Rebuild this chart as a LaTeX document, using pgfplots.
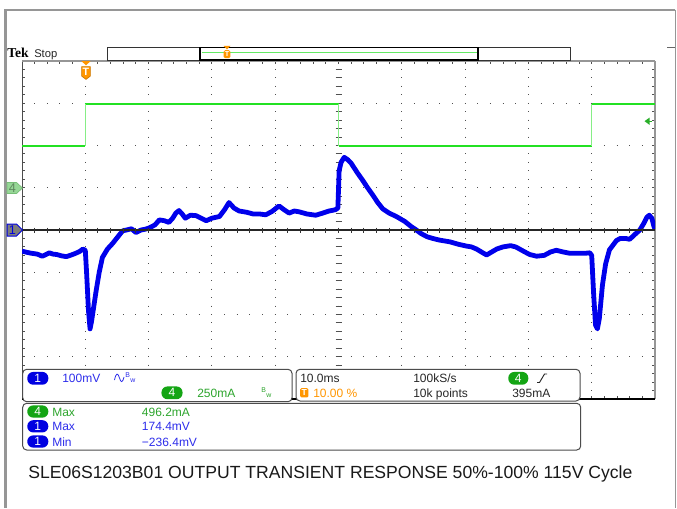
\documentclass[border=0pt]{standalone}
\usepackage{pgfplots}
\pgfplotsset{compat=1.18}
\usepackage{pgfplotstable}
\usepackage{fontspec}
\setmainfont{Liberation Sans}
\newfontfamily\tekfont{Liberation Serif}
\definecolor{trblue}{RGB}{0,0,235}
\definecolor{trgreen}{RGB}{35,225,35}
\definecolor{txtblue}{RGB}{45,45,235}
\definecolor{txtgreen}{RGB}{45,165,45}
\definecolor{pillblue}{RGB}{0,0,225}
\definecolor{pillgreen}{RGB}{20,165,20}
\definecolor{tekorange}{RGB}{255,150,0}
\definecolor{framegray}{RGB}{150,150,150}
\definecolor{dotgray}{RGB}{80,80,80}
\definecolor{mkfill}{RGB}{150,215,150}
\definecolor{mkdraw}{RGB}{120,190,120}
\definecolor{mktext}{RGB}{95,135,95}
\definecolor{mkgray}{RGB}{125,125,125}
\definecolor{trigarrow}{RGB}{40,175,40}

\pgfplotstableread{
t mV
-10 -50
-9.2 -53
-8.5 -55
-7.6 -57
-6.8 -62
-6.2 -58
-5.7 -54
-5.1 -57
-4.5 -58
-3.8 -61
-3.0 -63
-2.2 -59
-1.5 -55
-0.8 -50
-0.4 -45
0.0 -48
0.2 -100
0.5 -190
0.75 -234
1.0 -215
1.7 -145
2.2 -100
2.7 -65
3.5 -45
4.3 -32
5.2 -15
5.9 -2
6.5 0
7.3 3
8.0 -6
8.8 0
9.5 2
10.1 5
11.0 12
11.7 24
12.5 22
13.2 18
13.8 28
14.3 40
14.8 46
15.3 38
15.8 28
16.6 35
17.5 34
18.3 28
19.1 22
20.0 28
21.2 32
22.0 48
22.7 65
23.5 52
24.3 45
25.5 42
26.5 38
27.5 38
28.5 36
29.5 44
30.6 57
31.4 48
32.2 40
33.0 45
33.8 43
35.0 38
36.4 35
37.5 40
38.5 45
39.5 48
39.9 52
40.1 140
40.4 160
40.9 172
41.5 166
42.0 158
43.0 135
43.8 118
44.6 100
45.4 83
46.2 65
47.0 50
48.0 40
49.0 33
49.6 28
50.5 20
51.5 8
52.3 0
53.0 -8
54.0 -16
54.9 -20
56.0 -24
57.6 -28
59.0 -34
60.2 -38
61.0 -40
61.8 -45
62.8 -54
63.4 -59
64.2 -52
65.0 -45
66.0 -40
67.2 -37
68.0 -40
69.2 -50
70.2 -58
71.3 -62
72.5 -60
73.5 -52
74.4 -48
75.5 -52
76.5 -55
77.5 -55
79.0 -55
79.7 -54
80.0 -60
80.3 -150
80.6 -225
80.9 -234
81.2 -210
81.7 -130
82.2 -80
82.8 -47
83.4 -35
83.9 -25
84.5 -20
85.4 -20
86.0 -22
86.5 -15
87.0 -8
87.6 0
88.2 15
88.7 30
89.1 35
89.5 28
89.8 10
90.0 2
}\chone

\begin{document}
\begin{tikzpicture}
\path[use as bounding box] (0,0) rectangle (507.75pt,-381pt);
\begin{scope}[x=0.75pt,y=-0.75pt]
\fill[white] (0,0) rectangle (677,508);
% outer frame
\draw[framegray, line width=2.2pt] (5.3,9.5) -- (5.3,508);
\draw[framegray, line width=1.5pt] (4,9.5) -- (675,9.5);
\draw[framegray, line width=0.75pt] (675,9.5) -- (675,508);
\draw[black!60, line width=0.75pt] (667,47.3) -- (675,47.3);
% graticule dotted grid
\foreach \k in {1,2,3,4,5,6,7,8,9} {
  \draw[dotgray, line width=0.75pt, dash pattern=on 0.75pt off 5.5875pt, dash phase=0.375pt] ({22+63.3*\k},61) -- ({22+63.3*\k},399);
}
\foreach \j in {1,2,3,5,6,7} {
  \draw[dotgray, line width=0.75pt, dash pattern=on 0.75pt off 8.745pt, dash phase=0.375pt] (22,{61+42.25*\j}) -- (655,{61+42.25*\j});
}
% edge ticks
\foreach \i in {1,...,49} {
  \draw[dotgray, line width=0.75pt] ({22+12.66*\i},61) -- ({22+12.66*\i},64);
  \draw[dotgray, line width=0.75pt] ({22+12.66*\i},396) -- ({22+12.66*\i},399);
}
\foreach \i in {1,...,39} {
  \draw[dotgray, line width=0.75pt] (22,{61+8.45*\i}) -- (25,{61+8.45*\i});
  \draw[dotgray, line width=0.75pt] (652,{61+8.45*\i}) -- (655,{61+8.45*\i});
  \draw[dotgray, line width=0.75pt] (335.5,{61+8.45*\i}) -- (341.5,{61+8.45*\i});
}
% graticule border
\draw[black!70, line width=0.75pt] (22,61) -- (22,399);
\draw[framegray, line width=1.2pt] (22,61) -- (655,61);
\draw[framegray, line width=1.6pt] (655,61) -- (655,399);
\draw[black, line width=1.6pt] (22,399) -- (655,399);
\end{scope}

\begin{axis}[at={(16.5pt,-299.25pt)}, anchor=south west, scale only axis,
  width=474.75pt, height=253.5pt, xmin=-10, xmax=90, ymin=-400, ymax=400,
  axis lines=none, ticks=none, clip=true]
% channel 4 current (mA), 250 mA/div, ground one division above centre
\addplot[trgreen, line width=1.8pt] table[y expr=\thisrow{mA}*0.4+100] {
t mA
-10 248
0 248
};
\addplot[trgreen, line width=1.8pt] table[y expr=\thisrow{mA}*0.4+100] {
t mA
0 495
40 495
};
\addplot[trgreen, line width=1.8pt] table[y expr=\thisrow{mA}*0.4+100] {
t mA
40 248
80 248
};
\addplot[trgreen, line width=1.8pt] table[y expr=\thisrow{mA}*0.4+100] {
t mA
80 495
90 495
};
\addplot[trgreen!55, line width=0.8pt] table[y expr=\thisrow{mA}*0.4+100] {
t mA
0 248
0 495
};
\addplot[trgreen!55, line width=0.8pt] table[y expr=\thisrow{mA}*0.4+100] {
t mA
40 495
40 248
};
\addplot[trgreen!55, line width=0.8pt] table[y expr=\thisrow{mA}*0.4+100] {
t mA
80 248
80 495
};
% channel 1 voltage (mV), 100 mV/div
\addplot[trblue, line width=3.6pt, line join=round] table {\chone};
\end{axis}

\begin{scope}[x=0.75pt,y=-0.75pt]
% centre horizontal line with ticks
\draw[black!85, line width=0.9pt] (22,230) -- (655,230);
\foreach \i in {1,...,49} {
  \draw[black!80, line width=0.75pt] ({22+12.66*\i},227.5) -- ({22+12.66*\i},232.5);
}
% Tek Stop
\node[anchor=base west, inner sep=0, font=\tekfont\bfseries\fontsize{10.2}{11}\selectfont] at (7,57.3) {Tek};
\node[anchor=base west, inner sep=0, font=\fontsize{8.4}{10}\selectfont, text=black!85] at (34,57.3) {Stop};
% record bar
\draw[black!80, line width=0.75pt] (107,47.3) rectangle (570,60);
\draw[black, line width=1.2pt] (200,47.3) rectangle (478,60);
\draw[trgreen!70, line width=0.9pt] (201.5,52.8) -- (477,52.8);
\fill[tekorange] (223.5,45.8) -- (230.5,45.8) -- (227,49.5) -- cycle;
\node[fill=tekorange, rounded corners=1.2pt, inner sep=0, minimum width=5.2pt, minimum height=6pt, text=white, font=\bfseries\fontsize{5.5}{5.5}\selectfont] at (227,54.2) {T};
% trigger position marker on graticule
\fill[tekorange] (81.3,61) -- (90.7,61) -- (86,65.3) -- cycle;
\filldraw[fill=tekorange, draw=tekorange!80!black, line width=0.5pt] (81.6,66.6) -- (90.4,66.6) -- (90.4,76) -- (86,79.4) -- (81.6,76) -- cycle;
\node[text=white, font=\bfseries\fontsize{8}{8}\selectfont, inner sep=0] at (86,72) {T};
% left channel markers
\filldraw[fill=mkfill, draw=mkdraw, line width=0.5pt] (7,182.5) -- (16.5,182.5) -- (22.5,188) -- (16.5,193.5) -- (7,193.5) -- cycle;
\node[text=mktext, font=\fontsize{9.5}{9.5}\selectfont, inner sep=0] at (12.5,188.3) {4};
\filldraw[fill=mkgray, draw=pillblue, line width=0.75pt] (7,224) -- (16.5,224) -- (22.5,230) -- (16.5,236) -- (7,236) -- cycle;
\node[text=pillblue, font=\fontsize{9.5}{9.5}\selectfont, inner sep=0] at (12.5,230.3) {1};
% trigger level arrow
\fill[trigarrow] (644.5,121.2) -- (649.5,117.6) -- (649.5,124.8) -- cycle;
\draw[trigarrow, line width=0.75pt] (649,121.2) -- (652,121.2);
% readout boxes
\filldraw[fill=white, draw=black!70, line width=0.75pt, rounded corners=3pt] (22.7,369.3) rectangle (292,401.7);
\filldraw[fill=white, draw=black!70, line width=0.75pt, rounded corners=3pt] (296,369.3) rectangle (580,401);
\filldraw[fill=white, draw=black!70, line width=0.75pt, rounded corners=3pt] (22.7,403.3) rectangle (580.7,450);
% box 1
\node[fill=pillblue, rounded corners=4.5pt, inner sep=0, minimum width=15.8pt, minimum height=9.6pt, text=white, font=\fontsize{9}{9}\selectfont] at (37.8,378.3) {1};
\node[anchor=base west, inner sep=0, text=txtblue, font=\fontsize{9}{10}\selectfont] at (62,382.7) {100mV};
\draw[txtblue, line width=0.6pt] (114.5,380) .. controls (116,372.5) and (118,372.5) .. (119.5,378) .. controls (121,383) and (122.5,383) .. (124,377);
\node[anchor=base west, inner sep=0, text=txtblue, font=\fontsize{5.2}{5}\selectfont] at (125,377) {B};
\node[anchor=base west, inner sep=0, text=txtblue, font=\fontsize{5.2}{5}\selectfont] at (130,382.5) {w};
\node[fill=pillgreen, rounded corners=4.5pt, inner sep=0, minimum width=15.8pt, minimum height=9.6pt, text=white, font=\fontsize{9}{9}\selectfont] at (172,392.8) {4};
\node[anchor=base west, inner sep=0, text=txtgreen, font=\fontsize{9}{10}\selectfont] at (197,397.3) {250mA};
\node[anchor=base west, inner sep=0, text=txtgreen, font=\fontsize{5.2}{5}\selectfont] at (261,392) {B};
\node[anchor=base west, inner sep=0, text=txtgreen, font=\fontsize{5.2}{5}\selectfont] at (266,397.5) {w};
% box 2
\node[anchor=base west, inner sep=0, text=black!85, font=\fontsize{9}{10}\selectfont] at (300,382.7) {10.0ms};
\node[fill=tekorange, rounded corners=1pt, inner sep=0, minimum width=6.2pt, minimum height=7pt, text=white, font=\bfseries\fontsize{6.5}{6.5}\selectfont] at (304.3,392.8) {T};
\node[anchor=base west, inner sep=0, text=tekorange, font=\fontsize{9}{10}\selectfont] at (313,397.3) {10.00 \%};
\node[anchor=base west, inner sep=0, text=black!85, font=\fontsize{9}{10}\selectfont] at (413,382.7) {100kS/s};
\node[anchor=base west, inner sep=0, text=black!85, font=\fontsize{9}{10}\selectfont] at (413,397.3) {10k points};
\node[fill=pillgreen, rounded corners=4.5pt, inner sep=0, minimum width=15pt, minimum height=9.6pt, text=white, font=\fontsize{9}{9}\selectfont] at (518.3,378.3) {4};
\draw[black!85, line width=0.7pt] (537,382.5) -- (539.5,382.5) -- (544.5,374) -- (547,374);
\node[anchor=base west, inner sep=0, text=black!85, font=\fontsize{9}{10}\selectfont] at (512,397.3) {395mA};
% box 3
\node[fill=pillgreen, rounded corners=4.5pt, inner sep=0, minimum width=15.8pt, minimum height=9.2pt, text=white, font=\fontsize{9}{9}\selectfont] at (37.8,411.5) {4};
\node[anchor=base west, inner sep=0, text=txtgreen, font=\fontsize{9}{10}\selectfont] at (52,416) {Max};
\node[anchor=base west, inner sep=0, text=txtgreen, font=\fontsize{9}{10}\selectfont] at (141.7,416) {496.2mA};
\node[fill=pillblue, rounded corners=4.5pt, inner sep=0, minimum width=15.8pt, minimum height=9.2pt, text=white, font=\fontsize{9}{9}\selectfont] at (37.8,426.3) {1};
\node[anchor=base west, inner sep=0, text=txtblue, font=\fontsize{9}{10}\selectfont] at (52,430.7) {Max};
\node[anchor=base west, inner sep=0, text=txtblue, font=\fontsize{9}{10}\selectfont] at (141.7,430.7) {174.4mV};
\node[fill=pillblue, rounded corners=4.5pt, inner sep=0, minimum width=15.8pt, minimum height=9.2pt, text=white, font=\fontsize{9}{9}\selectfont] at (37.8,441.5) {1};
\node[anchor=base west, inner sep=0, text=txtblue, font=\fontsize{9}{10}\selectfont] at (52,446) {Min};
\node[anchor=base west, inner sep=0, text=txtblue, font=\fontsize{9}{10}\selectfont] at (141.7,446) {\textminus236.4mV};
% caption
\node[anchor=base west, inner sep=0, text=black!90, font=\fontsize{13.2}{15}\selectfont] at (28,478.3) {SLE06S1203B01 OUTPUT TRANSIENT RESPONSE 50\%-100\% 115V Cycle};
\end{scope}
\end{tikzpicture}
\end{document}
